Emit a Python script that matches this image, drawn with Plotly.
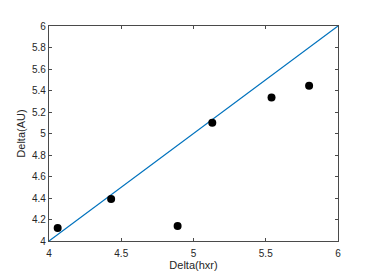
import plotly.graph_objects as go

x_vals = [4.06, 4.43, 4.89, 5.13, 5.54, 5.80]
y_vals = [4.12, 4.39, 4.14, 5.10, 5.335, 5.445]
line_x = [4, 6]
line_y = [4, 6]
x_ticks = [4, 4.5, 5, 5.5, 6]
y_ticks = [4, 4.2, 4.4, 4.6, 4.8, 5, 5.2, 5.4, 5.6, 5.8, 6]

fig = go.Figure()
fig.add_trace(go.Scatter(x=line_x, y=line_y, mode="lines",
                         line=dict(color="#0072BD", width=1.2), showlegend=False))
fig.add_trace(go.Scatter(x=x_vals, y=y_vals, mode="markers",
                         marker=dict(color="black", size=8), showlegend=False))

axis_common = dict(showgrid=False, zeroline=False, showline=True, mirror="ticks",
                   linecolor="#4a4a4a", linewidth=1.2, ticks="inside", ticklen=3,
                   tickcolor="#4a4a4a", tickfont=dict(size=10, color="#262626",
                                                      family="Liberation Sans, Arial"))
fig.update_xaxes(range=[4, 6], tickvals=x_ticks, ticktext=[str(v) for v in x_ticks],
                 ticklabelstandoff=3,
                 title=dict(text="Delta(hxr)", standoff=1,
                            font=dict(size=11, color="#262626", family="Liberation Sans, Arial")),
                 **axis_common)
fig.update_yaxes(range=[4, 6], tickvals=y_ticks, ticktext=[f"{v:g}" for v in y_ticks],
                 title=dict(text="Delta(AU)", standoff=4,
                            font=dict(size=11, color="#262626", family="Liberation Sans, Arial")),
                 **axis_common)
fig.update_layout(width=366, height=272, margin=dict(l=41, r=36, t=12, b=31),
                  plot_bgcolor="white", paper_bgcolor="white")
fig.write_html("out.html")
